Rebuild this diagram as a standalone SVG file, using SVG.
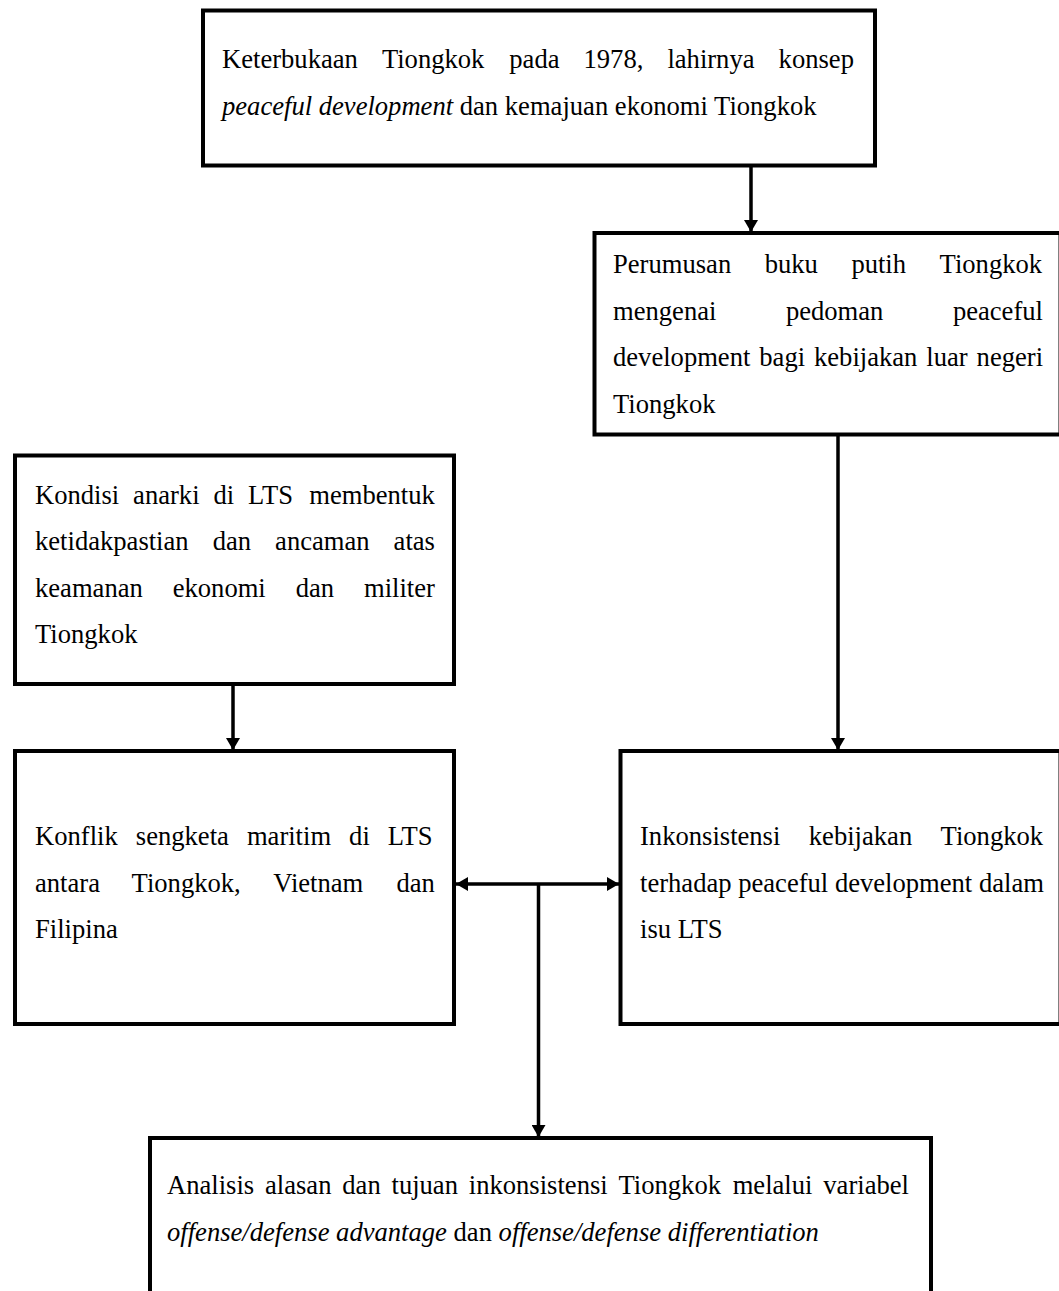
<svg xmlns="http://www.w3.org/2000/svg" width="1059" height="1291" viewBox="0 0 1059 1291">
<style>
  .box { fill: #ffffff; stroke: #000000; stroke-width: 4; }
  .t { font-family: "Liberation Serif", "Times New Roman", serif; font-size: 26.6px; fill: #000000; }
  .i { font-style: italic; }
  .conn { stroke: #000000; stroke-width: 3.5; fill: none; }
</style>
<defs>
  <marker id="arrow" markerUnits="userSpaceOnUse" markerWidth="12" markerHeight="14" refX="12" refY="7" orient="auto">
    <path d="M0,0 L12,7 L0,14 z" fill="#000000"/>
  </marker>
  <marker id="arrowStart" markerUnits="userSpaceOnUse" markerWidth="12" markerHeight="14" refX="0" refY="7" orient="auto">
    <path d="M12,0 L0,7 L12,14 z" fill="#000000"/>
  </marker>
</defs>
<rect width="1059" height="1291" fill="#ffffff"/>

<g id="connectors">
  <line class="conn" x1="751" y1="166" x2="751" y2="232" marker-end="url(#arrow)"/>
  <line class="conn" x1="838" y1="435" x2="838" y2="750" marker-end="url(#arrow)"/>
  <line class="conn" x1="233" y1="684" x2="233" y2="750" marker-end="url(#arrow)"/>
  <line class="conn" x1="456" y1="884" x2="619" y2="884" marker-start="url(#arrowStart)" marker-end="url(#arrow)"/>
  <line class="conn" x1="538.5" y1="884" x2="538.5" y2="1137" marker-end="url(#arrow)"/>
</g>

<g id="node-keterbukaan">
  <rect class="box" x="203" y="10.5" width="672" height="155"/>
  <text class="t" y="68">
    <tspan x="222">Keterbukaan</tspan><tspan x="381.9">Tiongkok</tspan><tspan x="509.3">pada</tspan><tspan x="583.5">1978,</tspan><tspan x="667.4">lahirnya</tspan><tspan x="778.6">konsep</tspan>
  </text>
  <text class="t" x="222" y="115"><tspan class="i">peaceful development</tspan> dan kemajuan ekonomi Tiongkok</text>
</g>

<g id="node-perumusan">
  <rect class="box" x="594.5" y="233" width="466" height="201.5"/>
  <text class="t" y="273">
    <tspan x="613">Perumusan</tspan><tspan x="764.7">buku</tspan><tspan x="851.4">putih</tspan><tspan x="939.6">Tiongkok</tspan>
  </text>
  <text class="t" y="319.5">
    <tspan x="613">mengenai</tspan><tspan x="785.9">pedoman</tspan><tspan x="952.9">peaceful</tspan>
  </text>
  <text class="t" y="366">
    <tspan x="613">development</tspan><tspan x="759.3">bagi</tspan><tspan x="814">kebijakan</tspan><tspan x="926.3">luar</tspan><tspan x="976.6">negeri</tspan>
  </text>
  <text class="t" x="613" y="412.5">Tiongkok</text>
</g>

<g id="node-kondisi">
  <rect class="box" x="15" y="455.5" width="439" height="228.5"/>
  <text class="t" y="504">
    <tspan x="35">Kondisi</tspan><tspan x="133.1">anarki</tspan><tspan x="213.5">di</tspan><tspan x="248.1">LTS</tspan><tspan x="309.3">membentuk</tspan>
  </text>
  <text class="t" y="550">
    <tspan x="35">ketidakpastian</tspan><tspan x="212.7">dan</tspan><tspan x="275.1">ancaman</tspan><tspan x="393.6">atas</tspan>
  </text>
  <text class="t" y="596.5">
    <tspan x="35">keamanan</tspan><tspan x="172.7">ekonomi</tspan><tspan x="295.7">dan</tspan><tspan x="364">militer</tspan>
  </text>
  <text class="t" x="35" y="642.5">Tiongkok</text>
</g>

<g id="node-konflik">
  <rect class="box" x="15" y="751" width="439" height="273"/>
  <text class="t" y="845">
    <tspan x="35">Konflik</tspan><tspan x="135.8">sengketa</tspan><tspan x="246.9">maritim</tspan><tspan x="349.1">di</tspan><tspan x="387.8">LTS</tspan>
  </text>
  <text class="t" y="891.5">
    <tspan x="35">antara</tspan><tspan x="131.6">Tiongkok,</tspan><tspan x="273.3">Vietnam</tspan><tspan x="396.5">dan</tspan>
  </text>
  <text class="t" x="35" y="938">Filipina</text>
</g>

<g id="node-inkonsistensi">
  <rect class="box" x="620.5" y="751" width="440" height="273"/>
  <text class="t" y="845">
    <tspan x="640">Inkonsistensi</tspan><tspan x="808.8">kebijakan</tspan><tspan x="940.6">Tiongkok</tspan>
  </text>
  <text class="t" x="640" y="891.5">terhadap peaceful development dalam</text>
  <text class="t" x="640" y="938">isu LTS</text>
</g>

<g id="node-analisis">
  <rect class="box" x="150" y="1138" width="781" height="170"/>
  <text class="t" y="1194">
    <tspan x="167">Analisis</tspan><tspan x="265">alasan</tspan><tspan x="342.3">dan</tspan><tspan x="391.5">tujuan</tspan><tspan x="468.8">inkonsistensi</tspan><tspan x="618.5">Tiongkok</tspan><tspan x="732.7">melalui</tspan><tspan x="823.3">variabel</tspan>
  </text>
  <text class="t" x="167" y="1241"><tspan class="i">offense/defense advantage</tspan> dan <tspan class="i">offense/defense differentiation</tspan></text>
</g>
</svg>
